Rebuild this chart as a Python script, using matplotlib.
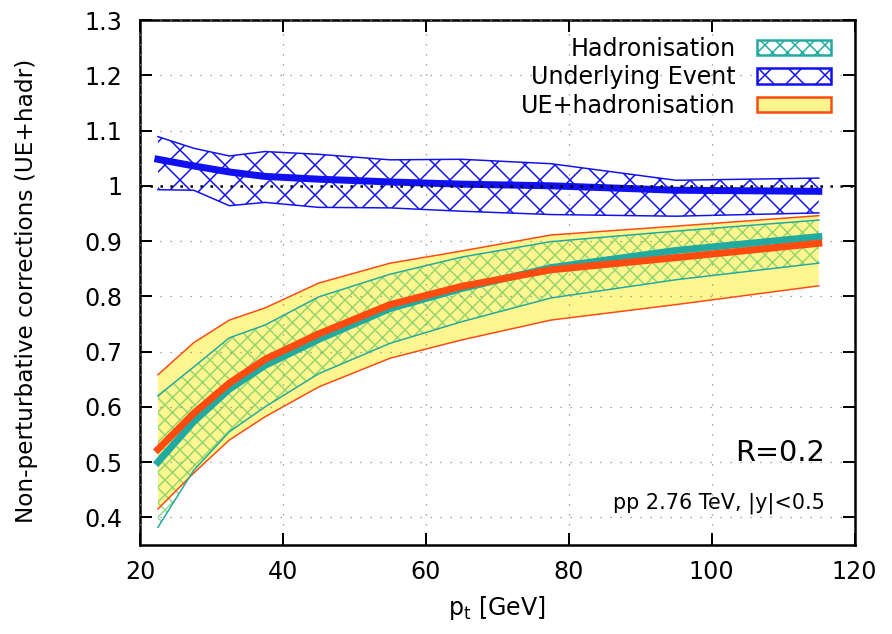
import numpy as np
import matplotlib
matplotlib.use('Agg')
import matplotlib.pyplot as plt
from matplotlib.patches import Patch

# bin centres in pt [GeV]
pt = [22.5, 27.5, 32.5, 37.5, 45, 55, 65, 77.5, 95, 115]

# underlying event
ue_c = [1.048, 1.036, 1.025, 1.017, 1.012, 1.007, 1.003, 1.000, 0.992, 0.990]
ue_hi = [1.089, 1.068, 1.054, 1.062, 1.057, 1.047, 1.048, 1.040, 1.010, 1.014]
ue_lo = [0.993, 0.992, 0.964, 0.970, 0.961, 0.960, 0.954, 0.948, 0.945, 0.951]

# hadronisation
had_c = [0.500, 0.573, 0.632, 0.675, 0.722, 0.778, 0.814, 0.852, 0.883, 0.908]
had_hi = [0.620, 0.672, 0.725, 0.748, 0.799, 0.840, 0.871, 0.899, 0.918, 0.938]
had_lo = [0.382, 0.485, 0.555, 0.600, 0.660, 0.715, 0.754, 0.797, 0.830, 0.860]

# UE + hadronisation
tot_c = [0.523, 0.588, 0.643, 0.686, 0.732, 0.785, 0.818, 0.848, 0.870, 0.896]
tot_hi = [0.658, 0.716, 0.757, 0.779, 0.824, 0.860, 0.882, 0.911, 0.927, 0.946]
tot_lo = [0.415, 0.480, 0.540, 0.582, 0.636, 0.688, 0.721, 0.757, 0.785, 0.819]

yticks = [0.4, 0.5, 0.6, 0.7, 0.8, 0.9, 1.0, 1.1, 1.2, 1.3]
xticks = [20, 40, 60, 80, 100, 120]

teal = '#22aaa0'
blue = '#1010f0'
orange = '#ff4a10'
yellow = '#fff68f'

plt.rcParams['hatch.linewidth'] = 1.2
plt.rcParams['font.size'] = 19

# dpi 90 so that the hatch spacing comes out like the original
fig = plt.figure(figsize=(892/90, 634/90), dpi=90)
ax = fig.add_axes([0.157, 0.1404, 0.801, 0.828])

# UE+hadronisation band
ax.fill_between(pt, tot_lo, tot_hi, facecolor=yellow, edgecolor='none', linewidth=0, zorder=1)
ax.plot(pt, tot_hi, color=orange, lw=1.2, zorder=2)
ax.plot(pt, tot_lo, color=orange, lw=1.2, zorder=2)

# hadronisation band
ax.fill_between(pt, had_lo, had_hi, facecolor='none', edgecolor=(0.45, 0.80, 0.40, 0.75),
                hatch='xx', linewidth=0, zorder=1.5)
ax.plot(pt, had_hi, color=teal, lw=1.2, zorder=2)
ax.plot(pt, had_lo, color=teal, lw=1.2, zorder=2)

# UE band
ax.fill_between(pt, ue_lo, ue_hi, facecolor='none', edgecolor=blue, hatch='x', linewidth=0, zorder=1.5)
ax.plot(pt, ue_hi, color=blue, lw=1.2, zorder=2)
ax.plot(pt, ue_lo, color=blue, lw=1.2, zorder=2)

# central values
ax.plot(pt, had_c, color=teal, lw=5.6, zorder=3)
ax.plot(pt, tot_c, color=orange, lw=5.6, zorder=3.1)
ax.plot(pt, ue_c, color=blue, lw=5.6, zorder=3.2)

ax.axhline(1.0, color='black', lw=2.0, ls=(0, (1, 3)), zorder=4)

ax.set_xlim(20, 120)
ax.set_ylim(0.35, 1.3)
ax.set_xticks(xticks)
ax.set_yticks(yticks)
ax.set_yticklabels(['%g' % v for v in yticks])
ax.grid(True, color='#888888', lw=1.0, ls=(0, (1, 7)))
ax.set_axisbelow(False)
ax.tick_params(direction='in', length=9.6, width=1.6, top=True, right=True, labelsize=19)
ax.tick_params(axis='y', pad=14)
ax.tick_params(axis='x', pad=12)
for s in ax.spines.values():
    s.set_linewidth(2.0)

ax.set_xlabel(r'p$_\mathrm{t}$ [GeV]', fontsize=19, labelpad=8)
ax.set_ylabel('Non-perturbative corrections (UE+hadr)', fontsize=18.5)
ax.yaxis.set_label_coords(-0.143, 0.485)

ax.text(0.959, 0.175, 'R=0.2', transform=ax.transAxes, ha='right', va='center', fontsize=23)
ax.text(0.959, 0.08, 'pp 2.76 TeV, |y|<0.5', transform=ax.transAxes, ha='right', va='center', fontsize=16.6)

handles = [Patch(facecolor='white', edgecolor=teal, hatch='xx', lw=2.0),
           Patch(facecolor='white', edgecolor=blue, hatch='x', lw=2.0),
           Patch(facecolor=yellow, edgecolor=orange, lw=2.0)]
labels = ['Hadronisation', 'Underlying Event', 'UE+hadronisation']
ax.legend(handles, labels, loc='upper right', bbox_to_anchor=(0.983, 0.991), frameon=False,
          markerfirst=False, handlelength=3.1, handleheight=0.6, labelspacing=0.2,
          handletextpad=0.9, borderpad=0, fontsize=19)

fig.savefig('out.png', dpi=90)
